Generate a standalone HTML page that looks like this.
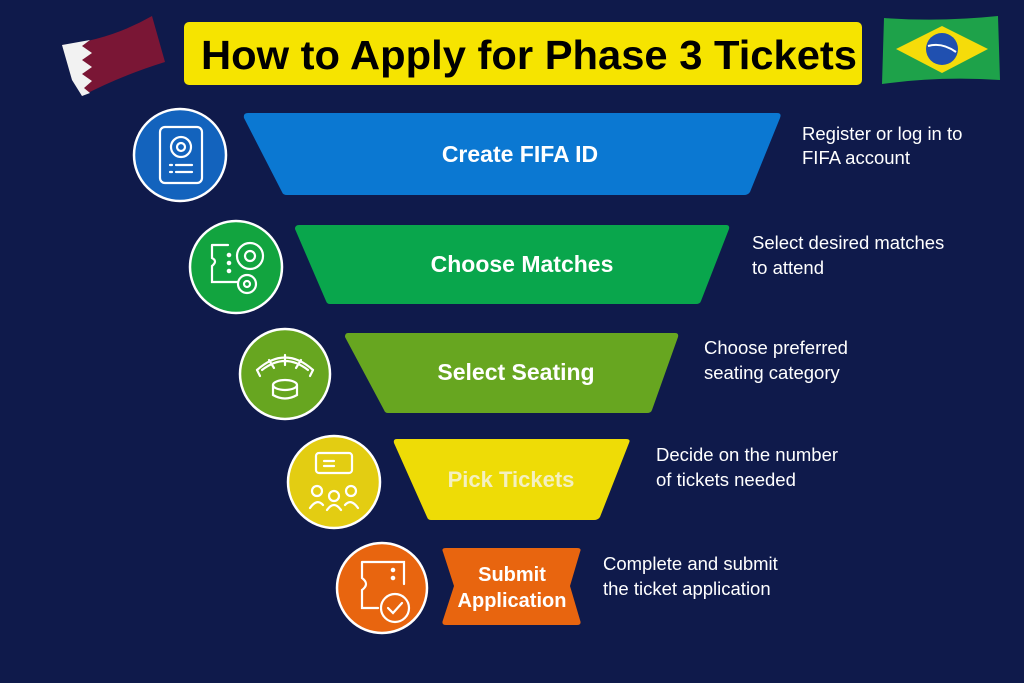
<!DOCTYPE html>
<html><head><meta charset="utf-8"><style>
html,body{margin:0;padding:0;background:#0f1a4b;}
svg{display:block}
text{font-family:"Liberation Sans",sans-serif;}
</style></head><body>
<svg width="1024" height="683" viewBox="0 0 1024 683" xmlns="http://www.w3.org/2000/svg">
<rect width="1024" height="683" fill="#0f1a4b"/>
<!-- Qatar flag -->
<path d="M62 45 Q110 40 152 16 L165 62 Q120 76 82 96 Z" fill="#7a1635"/>
<path d="M62 45 L90 40 L82 46 L92 53 L82 60 L92 67 L82 74 L92 81 L84 88 L90 93 L82 96 L72 80 Z" fill="#f2f2f2"/>
<!-- Brazil flag -->
<path d="M884 18 Q940 22 998 16 L1000 80 Q940 76 882 84 Z" fill="#1ea24a"/>
<path d="M942 26 L988 49 L942 73 L896 49 Z" fill="#f5dc0a"/>
<circle cx="942" cy="49" r="16" fill="#2050b0"/>
<path d="M928 46 Q942 42 956 52" stroke="#fff" stroke-width="2" fill="none"/>
<!-- Title -->
<rect x="184" y="22" width="678" height="63" rx="5" fill="#f6e400"/>
<text x="201" y="69" textLength="656" lengthAdjust="spacingAndGlyphs" font-size="41" font-weight="bold" fill="#000">How to Apply for Phase 3 Tickets</text>

<!-- Bands -->
<path d="M248 113 L777 113 Q782 113 780 118 L750 192 Q748 195 744 195 L287 195 Q283 195 282 192 L244 118 Q243 113 248 113 Z" fill="#0b78d2"/>
<text x="520" y="162" text-anchor="middle" font-size="23" font-weight="bold" fill="#fff">Create FIFA ID</text>
<path d="M299 225 L726 225 Q730 225 729 229 L701 301 Q700 304 696 304 L330 304 Q327 304 326 301 L295 229 Q295 225 299 225 Z" fill="#09a64c"/>
<text x="522" y="272" text-anchor="middle" font-size="23" font-weight="bold" fill="#fff">Choose Matches</text>
<path d="M348 333 L675 333 Q679 333 678 337 L652 410 Q651 413 647 413 L388 413 Q385 413 384 410 L345 337 Q345 333 348 333 Z" fill="#67a620"/>
<text x="516" y="380" text-anchor="middle" font-size="23" font-weight="bold" fill="#fff">Select Seating</text>
<path d="M397 439 L626 439 Q631 439 629 443 L600 517 Q598 520 594 520 L431 520 Q428 520 427 517 L394 443 Q393 439 397 439 Z" fill="#eedc06"/>
<text x="511" y="487" text-anchor="middle" font-size="22" font-weight="bold" fill="#f4f0c0">Pick Tickets</text>
<path d="M446 548 L577 548 Q582 548 580 552 L570 586 L580 620 Q582 625 577 625 L446 625 Q441 625 443 620 L454 586 L443 552 Q441 548 446 548 Z" fill="#e8650f"/>
<text x="512" y="581" text-anchor="middle" font-size="20" font-weight="bold" fill="#fff">Submit</text>
<text x="512" y="607" text-anchor="middle" font-size="20" font-weight="bold" fill="#fff">Application</text>

<!-- Right texts -->
<g font-size="18.5" fill="#fff">
<text x="802" y="140">Register or log in to</text>
<text x="802" y="164">FIFA account</text>
<text x="752" y="249">Select desired matches</text>
<text x="752" y="274">to attend</text>
<text x="704" y="354">Choose preferred</text>
<text x="704" y="379">seating category</text>
<text x="656" y="461">Decide on the number</text>
<text x="656" y="486">of tickets needed</text>
<text x="603" y="570">Complete and submit</text>
<text x="603" y="595">the ticket application</text>
</g>

<!-- Circles -->
<g stroke="#fff" stroke-width="2.5">
<circle cx="180" cy="155" r="46" fill="#1363bd"/>
<circle cx="236" cy="267" r="46" fill="#12a43f"/>
<circle cx="285" cy="374" r="45" fill="#67a620"/>
<circle cx="334" cy="482" r="46" fill="#e3cd12"/>
<circle cx="382" cy="588" r="45" fill="#e8650f"/>
</g>
<!-- Icons -->
<g stroke="#fff" stroke-width="2.2" fill="none" stroke-linecap="round">
<rect x="160" y="127" width="42" height="56" rx="5"/>
<circle cx="181" cy="147" r="10"/><circle cx="181" cy="147" r="4"/>
<line x1="170" y1="165" x2="172" y2="165"/><line x1="176" y1="165" x2="192" y2="165"/>
<line x1="170" y1="172" x2="172" y2="172"/><line x1="176" y1="172" x2="192" y2="172"/>
<path d="M212 245 L228 245 M212 245 L212 258 Q218 261 212 266 L212 282 L238 282"/>
<circle cx="250" cy="256" r="13"/><circle cx="250" cy="256" r="5"/>
<circle cx="247" cy="284" r="9"/><circle cx="247" cy="284" r="3"/>
<circle cx="229" cy="255" r="1.2"/><circle cx="229" cy="263" r="1.2"/><circle cx="229" cy="271" r="1.2"/>
<path d="M257 370 Q285 345 313 370 M262 370 Q285 352 308 370 M269 360 L274 368 M285 355 L285 365 M301 360 L296 368"/>
<path d="M257 370 L260 376 M313 370 L310 376"/>
<ellipse cx="285" cy="385" rx="12" ry="5"/><path d="M273 385 L273 395 Q285 402 297 395 L297 385"/>
<rect x="316" y="453" width="36" height="20" rx="3"/><line x1="324" y1="461" x2="334" y2="461"/><line x1="324" y1="466" x2="334" y2="466"/>
<circle cx="317" cy="491" r="5"/><circle cx="334" cy="496" r="5"/><circle cx="351" cy="491" r="5"/>
<path d="M310 508 Q317 498 323 505 M327 510 Q334 500 341 510 M345 505 Q351 498 358 508"/>
<path d="M362 562 L404 562 L404 584 M362 562 L362 578 Q370 584 362 590 L362 608 L378 608"/>
<circle cx="395" cy="608" r="14"/><path d="M388 608 L393 613 L402 603"/>
<circle cx="393" cy="570" r="1.2"/><circle cx="393" cy="578" r="1.2"/>
</g>
</svg>
</body></html>
